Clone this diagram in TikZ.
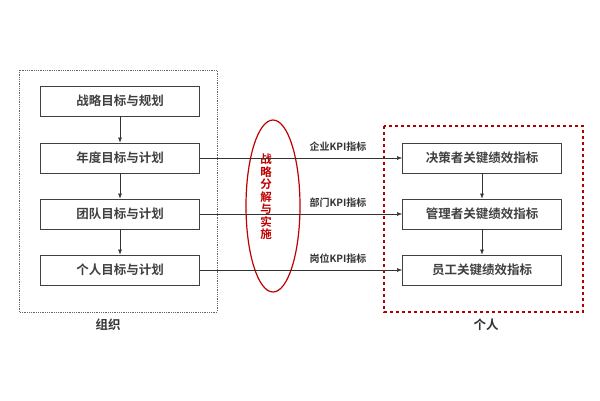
\documentclass[tikz,border=0pt]{standalone}
\usepackage{fontspec}
\newfontfamily\cjk{Noto Sans CJK SC}[BoldFont={Noto Sans CJK SC Bold}]
\usetikzlibrary{positioning,arrows.meta}
\begin{document}
\begin{tikzpicture}[x=1pt,y=-1pt,font=\cjk\bfseries\fontsize{12.5}{14}\selectfont,
    goal/.style={draw=black!75,thick,minimum width=159pt,minimum height=30pt,text=black!75},
    link/.style={-{Latex[length=5pt]},black!80},
    kpi/.style={above=3pt,xshift=37pt,font=\cjk\bfseries\fontsize{10}{12}\selectfont}]
    \useasboundingbox (0,0) rectangle (600,400);
    %frames
    \draw[densely dotted,thick,black!60] (19,70) rectangle (217,312);
    \draw[dashed,very thick,red!70!black] (384,126) rectangle (583,312);
    \draw[very thick,red!75!black] (273,206) ellipse (27pt and 86pt);
    \node[text=red!75!black,align=center,font=\cjk\bfseries\fontsize{11.5}{12.5}\selectfont] (split) at (266,197) {战\\略\\分\\解\\与\\实\\施};
    %organisation
    \node[goal] (plan) at (120,101) {战略目标与规划};
    \node[goal] (year) at (120,158) {年度目标与计划};
    \node[goal] (team) at (120,214) {团队目标与计划};
    \node[goal] (self) at (120,270) {个人目标与计划};
    %individuals
    \node[goal] (boss) at (482,158) {决策者关键绩效指标};
    \node[goal] (mgr) at (482,214) {管理者关键绩效指标};
    \node[goal] (staff) at (482,270) {员工关键绩效指标};
    %arrows
    \draw[link] (plan) -- (year);
    \draw[link] (year) -- (team);
    \draw[link] (team) -- (self);
    \draw[link] (boss) -- (mgr);
    \draw[link] (mgr) -- (staff);
    \draw[link] (year) -- node[kpi] {企业KPI指标} (boss);
    \draw[link] (team) -- node[kpi] {部门KPI指标} (mgr);
    \draw[link] (self) -- node[kpi] {岗位KPI指标} (staff);
    %labels
    \node[text=black!80] (org) at (108,325) {组织};
    \node[text=black!80] (ppl) at (486,325) {个人};
\end{tikzpicture}
\end{document}
